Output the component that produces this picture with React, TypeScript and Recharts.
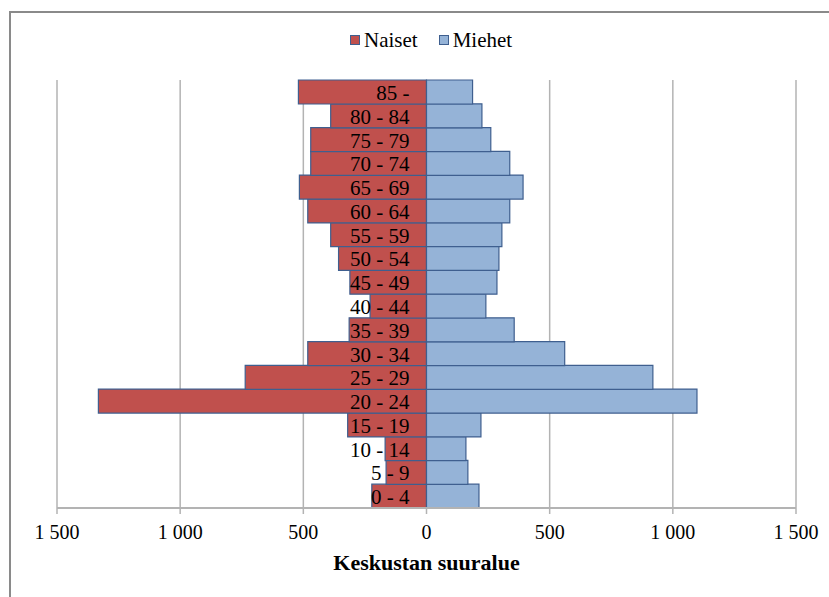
import { Bar, BarChart, CartesianGrid, LabelList, XAxis, YAxis } from "recharts";

const ageGroups = [
  "0 - 4", "5 - 9", "10 - 14", "15 - 19", "20 - 24", "25 - 29", "30 - 34", "35 - 39", "40 - 44",
  "45 - 49", "50 - 54", "55 - 59", "60 - 64", "65 - 69", "70 - 74", "75 - 79", "80 - 84", "85 -"
];
const naiset = [222, 164, 168, 320, 1332, 736, 482, 314, 229, 311, 357, 389, 482, 516, 470, 470, 389, 520];
const miehet = [213, 168, 160, 221, 1098, 919, 561, 356, 241, 286, 294, 306, 338, 392, 338, 261, 225, 187];
const xTicks = [-1500, -1000, -500, 0, 500, 1000, 1500];

const FONT = '"Liberation Serif", "Times New Roman", serif';
const RED = "#C0504D";
const BLUE = "#95B3D7";
const OUTLINE = "#3F5F8F";

const data = ageGroups.map((age, i) => ({ age, naiset: -naiset[i], miehet: miehet[i] }));

const fmt = (v: number) => {
  const a = Math.abs(v);
  return a >= 1000 ? `${Math.floor(a / 1000)} ${String(a % 1000).padStart(3, "0")}` : String(a);
};

function TickLabel(props: any) {
  const { x, y, payload } = props;
  return (
    <text x={x} y={y + 15} textAnchor="middle" fontSize={20} fontFamily={FONT} fill="#000">
      {fmt(payload.value)}
    </text>
  );
}

function AgeLabel(props: any) {
  const { x, y, width, height, value } = props;
  const zx = width < 0 ? x : x + width;
  return (
    <text x={zx - 17} y={y + height / 2 + 1} textAnchor="end" dominantBaseline="central" fontSize={21} fontFamily={FONT} fill="#000">
      {value}
    </text>
  );
}

function LegendBox() {
  const item = (color: string, label: string, ml: number) => (
    <span style={{ display: "inline-flex", alignItems: "center", marginLeft: ml }}>
      <span style={{ width: 8, height: 8, background: color, border: `1px solid ${OUTLINE}`, marginRight: 4 }} />
      {label}
    </span>
  );
  return (
    <div style={{ position: "absolute", top: 25, left: 350, whiteSpace: "nowrap", fontFamily: FONT, fontSize: 21, lineHeight: "26px", color: "#000" }}>
      {item(RED, "Naiset", 0)}
      {item(BLUE, "Miehet", 21)}
    </div>
  );
}

export default function App() {
  return (
    <div style={{ position: "absolute", left: 0, top: 0, width: 829, height: 597, background: "#fff", overflow: "hidden", fontFamily: FONT }}>
      <div style={{ position: "absolute", left: 9, top: 11, width: 900, height: 700, border: "2px solid #8a8a8a" }} />
      <LegendBox />
      <BarChart
        width={829}
        height={597}
        data={data}
        layout="vertical"
        stackOffset="sign"
        barCategoryGap={0}
        style={{ fontFamily: FONT }}
        margin={{ top: 80, right: 33, left: 57, bottom: 19 }}
      >
        <CartesianGrid horizontal={false} stroke="#b3b3b3" strokeWidth={1.5} />
        <XAxis
          type="number"
          domain={[-1500, 1500]}
          ticks={xTicks}
          height={70}
          axisLine={{ stroke: "#b3b3b3", strokeWidth: 2 }}
          tickLine={{ stroke: "#b3b3b3", strokeWidth: 1.5 }}
          tickSize={6}
          tickMargin={10}
          tick={<TickLabel />}
          label={{ value: "Keskustan suuralue", position: "insideBottom", offset: 8, fontFamily: FONT, fontSize: 22, fontWeight: "bold", fill: "#000" }}
        />
        <YAxis type="category" dataKey="age" hide reversed />
        <Bar dataKey="naiset" name="Naiset" stackId="a" fill={RED} stroke={OUTLINE} strokeWidth={1.2} isAnimationActive={false}>
          <LabelList dataKey="age" content={<AgeLabel />} />
        </Bar>
        <Bar dataKey="miehet" name="Miehet" stackId="a" fill={BLUE} stroke={OUTLINE} strokeWidth={1.2} isAnimationActive={false} />
      </BarChart>
    </div>
  );
}
